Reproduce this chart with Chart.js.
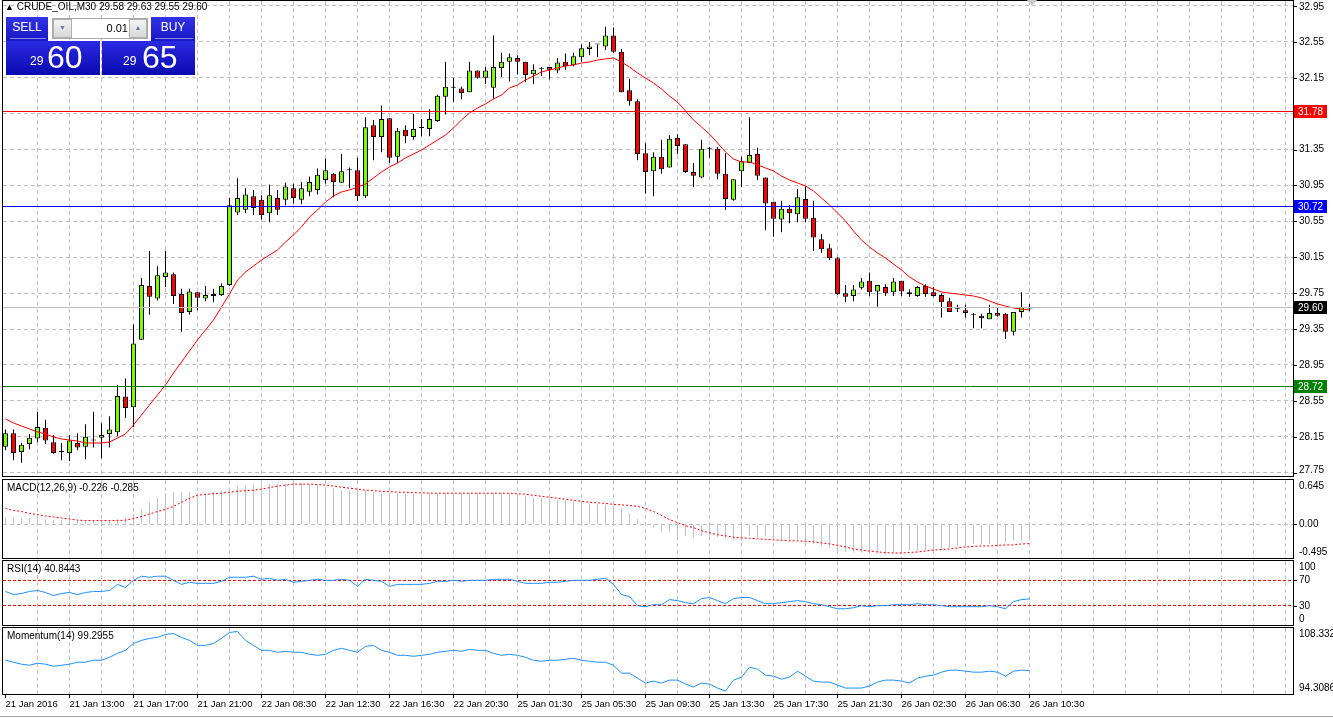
<!DOCTYPE html>
<html>
<head>
<meta charset="utf-8">
<title>CRUDE_OIL,M30</title>
<script src="https://cdn.jsdelivr.net/npm/chart.js@4.4.1/dist/chart.umd.min.js"></script>
<style>
html,body{margin:0;padding:0;background:#fff}
body{position:relative;width:1333px;height:718px;overflow:hidden;font-family:'Liberation Sans',Arial,sans-serif;color:#000}
canvas{position:absolute;left:0}
.lbl{position:absolute;left:7px;font-size:10px;line-height:12px;white-space:nowrap}
#tp div{position:absolute;box-sizing:border-box}
#tp .btn{color:#fff;font-size:12px;text-align:center;line-height:21px;background:linear-gradient(#3232e6,#1818c4)}
#tp .btn i{position:absolute;left:4px;right:2px;bottom:2px;height:1px;background:#8a8af0}
#tp .spb{background:linear-gradient(#f4f4f4,#d8d8d8);border:1px solid #b0b0b0;color:#6a7aa0;font-size:7px;line-height:16px;text-align:center}
#tp .qt{background:linear-gradient(#2a2ae2,#0a0ab0);color:#fff}
#tp .qt span{position:absolute}
#tp .s{font-size:12px;line-height:12px;top:14px}
#tp .b{font-size:32px;line-height:32px;top:0}
#shift{position:absolute;left:1027px;top:0;width:0;height:0;border-left:5px solid transparent;border-right:5px solid transparent;border-top:6px solid #c8c8c8}
#tab{position:absolute;left:0;top:716px;width:1333px;height:1px;background:#a0a0a0}
</style>
</head>
<body>
<canvas id="cMain" width="1333" height="478" style="top:0"></canvas>
<canvas id="cMacd" width="1333" height="82" style="top:478px"></canvas>
<canvas id="cRsi" width="1333" height="66" style="top:560px"></canvas>
<canvas id="cMom" width="1333" height="92" style="top:626px"></canvas>

<div class="lbl" style="left:5px;top:1px"><span style="font-size:9px;vertical-align:0">&#9650;</span>&nbsp;CRUDE_OIL,M30&nbsp;29.58&nbsp;29.63&nbsp;29.55&nbsp;29.60</div>
<div class="lbl" style="top:482px">MACD(12,26,9) -0.226 -0.285</div>
<div class="lbl" style="top:563px">RSI(14) 40.8443</div>
<div class="lbl" style="top:630px">Momentum(14) 99.2955</div>
<div id="shift"></div>
<div id="tab"></div>

<div id="tp">
  <div class="btn" style="left:6px;top:17px;width:42px;height:24px">SELL<i></i></div>
  <div style="left:52px;top:18px;width:96px;height:21px;background:#fff;border:1px solid #a8a8a8"></div>
  <div class="spb" style="left:53px;top:19px;width:19px;height:19px">&#9660;</div>
  <div style="left:73px;top:19px;width:56px;height:19px;font-size:11px;line-height:19px;text-align:right;padding-right:1px">0.01</div>
  <div class="spb" style="left:129px;top:19px;width:18px;height:19px">&#9650;</div>
  <div class="btn" style="left:151px;top:17px;width:44px;height:24px">BUY<i></i></div>
  <div class="qt" style="left:6px;top:41px;width:94px;height:34px"><span class="s" style="left:24px">29</span><span class="b" style="left:41px">60</span></div>
  <div class="qt" style="left:102px;top:41px;width:93px;height:34px"><span class="s" style="left:21px">29</span><span class="b" style="left:40px">65</span></div>
</div>

<script>
// ---- data ----
const timeLabels=['21 Jan 2016','21 Jan 13:00','21 Jan 17:00','21 Jan 21:00','22 Jan 08:30','22 Jan 12:30','22 Jan 16:30','22 Jan 20:30',
  '25 Jan 01:30','25 Jan 05:30','25 Jan 09:30','25 Jan 13:30','25 Jan 17:30','25 Jan 21:30','26 Jan 02:30','26 Jan 06:30','26 Jan 10:30'];

const open=[28.04,28.19,27.98,28.07,28.13,28.25,28.09,27.98,27.97,28.08,
  28.04,28.11,28.14,28.18,28.20,28.60,28.48,29.23,29.83,29.69,
  29.93,29.96,29.74,29.54,29.76,29.69,29.74,29.73,29.84,30.65,
  30.68,30.83,30.79,30.64,30.81,30.79,30.92,30.79,30.88,30.90,
  31.01,31.08,30.98,31.12,31.12,30.83,31.62,31.49,31.70,31.27,
  31.57,31.49,31.59,31.58,31.67,31.94,32.04,32.03,31.99,32.23,
  32.15,32.04,32.26,32.33,32.37,32.33,32.19,32.25,32.27,32.23,
  32.33,32.29,32.38,32.47,32.52,32.50,32.62,32.44,32.01,31.89,
  31.31,31.11,31.27,31.15,31.48,31.41,31.10,31.04,31.36,31.36,
  31.08,30.79,31.11,31.20,31.30,31.04,30.77,30.57,30.69,30.63,
  30.80,30.59,30.35,30.25,30.14,29.75,29.72,29.81,29.89,29.77,
  29.82,29.76,29.89,29.76,29.72,29.83,29.76,29.73,29.66,29.57,
  29.56,29.51,29.50,29.46,29.53,29.52,29.32,29.54,29.58];
const high=[28.23,28.23,28.08,28.18,28.43,28.34,28.17,28.08,28.17,28.19,
  28.29,28.43,28.30,28.38,28.73,28.80,29.40,29.92,30.22,30.05,
  30.22,29.98,29.80,29.80,29.76,29.83,29.80,29.86,30.81,31.03,
  30.92,30.90,30.84,30.96,30.90,30.98,30.97,30.99,31.05,31.14,
  31.25,31.09,31.30,31.15,31.26,31.71,31.68,31.84,31.70,31.59,
  31.62,31.75,31.69,31.80,31.96,32.33,32.15,32.05,32.33,32.23,
  32.27,32.62,32.43,32.42,32.40,32.33,32.30,32.27,32.27,32.37,
  32.42,32.43,32.52,32.55,32.52,32.72,32.71,32.47,32.14,31.91,
  31.42,31.32,31.46,31.51,31.52,31.41,31.20,31.46,31.38,31.38,
  31.31,31.02,31.27,31.71,31.37,31.04,30.77,30.78,30.73,30.91,
  30.94,30.78,30.41,30.30,30.15,29.84,29.84,29.92,29.98,29.84,
  29.85,29.92,29.89,29.79,29.83,29.85,29.82,29.75,29.70,29.62,
  29.62,29.53,29.52,29.62,29.585,29.53,29.54,29.76,29.63];
const low=[28.00,27.89,27.86,28.01,28.09,28.07,27.96,27.89,27.88,28.00,
  27.90,28.03,27.91,28.03,28.16,28.36,28.26,29.23,29.51,29.67,
  29.82,29.63,29.32,29.51,29.56,29.66,29.65,29.72,29.83,30.62,
  30.64,30.62,30.57,30.54,30.62,30.73,30.75,30.74,30.83,30.85,
  30.97,30.82,30.98,30.92,30.78,30.81,31.23,31.32,31.20,31.20,
  31.42,31.46,31.50,31.50,31.66,31.74,31.88,31.91,31.99,32.14,
  32.08,31.92,32.16,32.11,32.19,32.10,32.08,32.17,32.13,32.20,
  32.24,32.28,32.33,32.40,32.38,32.46,32.43,31.99,31.84,31.23,
  30.86,30.83,31.08,31.15,31.30,31.09,30.93,31.03,31.26,31.02,
  30.68,30.78,30.93,31.20,31.01,30.45,30.38,30.43,30.53,30.54,
  30.54,30.22,30.20,30.12,29.73,29.65,29.66,29.79,29.72,29.60,
  29.72,29.72,29.72,29.71,29.71,29.71,29.71,29.48,29.54,29.54,
  29.48,29.36,29.36,29.46,29.49,29.24,29.28,29.48,29.55];
const close=[28.19,27.97,28.06,28.14,28.26,28.11,27.97,27.98,28.11,28.03,
  28.15,28.11,28.17,28.23,28.605,28.47,29.19,29.84,29.71,29.95,
  29.98,29.72,29.53,29.77,29.70,29.73,29.72,29.83,30.73,30.81,
  30.85,30.70,30.62,30.84,30.68,30.94,30.81,30.92,30.99,31.07,
  31.12,30.99,31.11,31.12,30.83,31.60,31.49,31.69,31.26,31.56,
  31.50,31.58,31.59,31.69,31.95,32.05,32.04,31.98,32.23,32.15,
  32.23,32.27,32.33,32.38,32.33,32.18,32.24,32.25,32.24,32.32,
  32.28,32.39,32.48,32.50,32.52,32.62,32.44,31.99,31.89,31.30,
  31.10,31.27,31.13,31.47,31.39,31.10,31.06,31.36,31.36,31.08,
  30.80,31.02,31.22,31.29,31.06,30.75,30.58,30.69,30.64,30.82,
  30.58,30.37,30.24,30.14,29.74,29.71,29.79,29.88,29.76,29.84,
  29.75,29.88,29.77,29.74,29.82,29.74,29.72,29.65,29.54,29.57,
  29.53,29.51,29.47,29.53,29.50,29.32,29.54,29.60,29.60];
const ma=[28.349,28.304,28.270,28.237,28.204,28.181,28.148,28.126,28.114,28.103,
  28.081,28.081,28.081,28.092,28.137,28.181,28.282,28.393,28.505,28.616,
  28.727,28.861,28.984,29.106,29.229,29.340,29.451,29.596,29.741,29.897,
  29.986,30.053,30.120,30.176,30.231,30.320,30.399,30.488,30.599,30.677,
  30.766,30.833,30.878,30.900,30.933,30.967,31.034,31.100,31.156,31.201,
  31.257,31.301,31.346,31.401,31.457,31.513,31.591,31.680,31.758,31.814,
  31.858,31.914,31.958,32.036,32.070,32.126,32.170,32.215,32.237,32.259,
  32.282,32.293,32.315,32.326,32.348,32.360,32.371,32.326,32.270,32.204,
  32.148,32.092,32.025,31.947,31.880,31.780,31.680,31.602,31.523,31.424,
  31.323,31.245,31.212,31.212,31.179,31.145,31.112,31.056,31.011,30.978,
  30.945,30.889,30.811,30.733,30.644,30.555,30.443,30.343,30.265,30.198,
  30.142,30.075,30.009,29.931,29.875,29.830,29.797,29.763,29.752,29.741,
  29.730,29.719,29.697,29.663,29.630,29.607,29.585,29.574,29.563];
const macdMain=[0.10,0.10,0.09,0.09,0.07,0.07,0.06,0.06,0.06,0.06,
  0.06,0.06,0.06,0.06,0.07,0.09,0.15,0.22,0.32,0.39,
  0.45,0.47,0.47,0.47,0.45,0.45,0.47,0.49,0.53,0.55,
  0.57,0.58,0.58,0.59,0.59,0.59,0.60,0.60,0.58,0.57,
  0.54,0.52,0.50,0.49,0.48,0.49,0.47,0.45,0.45,0.45,
  0.44,0.44,0.45,0.45,0.44,0.45,0.45,0.46,0.45,0.45,
  0.44,0.45,0.45,0.45,0.44,0.42,0.39,0.38,0.37,0.35,
  0.35,0.33,0.32,0.30,0.29,0.29,0.27,0.23,0.16,0.07,
  0.01,-0.05,-0.11,-0.11,-0.17,-0.17,-0.20,-0.17,-0.17,-0.19,
  -0.20,-0.23,-0.20,-0.17,-0.19,-0.17,-0.23,-0.24,-0.24,-0.24,
  -0.26,-0.29,-0.32,-0.35,-0.39,-0.41,-0.42,-0.42,-0.42,-0.42,
  -0.44,-0.42,-0.42,-0.39,-0.39,-0.39,-0.38,-0.36,-0.35,-0.32,
  -0.30,-0.29,-0.30,-0.29,-0.29,-0.27,-0.24,-0.24,-0.226];
const macdSignal=[0.230,0.200,0.185,0.156,0.141,0.119,0.104,0.089,0.074,0.059,
  0.052,0.052,0.052,0.052,0.052,0.059,0.081,0.111,0.148,0.185,
  0.215,0.259,0.319,0.378,0.422,0.437,0.444,0.452,0.467,0.481,
  0.489,0.496,0.511,0.533,0.556,0.570,0.585,0.585,0.585,0.578,
  0.570,0.556,0.541,0.526,0.511,0.496,0.489,0.481,0.474,0.467,
  0.467,0.459,0.459,0.452,0.452,0.452,0.452,0.452,0.452,0.452,
  0.452,0.452,0.452,0.452,0.444,0.437,0.422,0.407,0.393,0.378,
  0.363,0.348,0.333,0.319,0.311,0.304,0.289,0.281,0.274,0.259,
  0.230,0.185,0.126,0.067,0.022,-0.022,-0.052,-0.096,-0.126,-0.156,
  -0.170,-0.193,-0.200,-0.207,-0.215,-0.222,-0.230,-0.237,-0.244,-0.244,
  -0.252,-0.259,-0.274,-0.289,-0.311,-0.333,-0.363,-0.378,-0.393,-0.407,
  -0.415,-0.422,-0.422,-0.415,-0.407,-0.393,-0.378,-0.370,-0.363,-0.348,
  -0.333,-0.326,-0.319,-0.319,-0.311,-0.304,-0.304,-0.289,-0.285];
const rsi=[52.4,47.6,49.2,52.4,54.0,50.8,46.0,49.2,50.8,47.6,
  50.8,52.4,52.4,54.0,63.5,58.7,69.8,76.2,74.6,76.2,
  76.2,69.8,63.5,66.7,65.1,65.1,65.1,68.3,74.6,74.6,
  74.6,76.2,71.4,73.0,69.8,71.4,66.7,68.3,69.8,71.4,
  69.8,69.8,71.4,69.8,60.3,71.4,69.8,68.3,60.3,63.5,
  63.5,63.5,63.5,65.1,68.3,68.3,69.8,68.3,69.8,69.8,
  69.8,71.4,71.4,71.4,68.3,65.1,65.1,65.1,66.7,66.7,
  68.3,69.8,69.8,69.8,71.4,73.0,63.5,47.6,44.4,30.2,
  28.6,31.7,31.7,39.7,38.1,34.9,33.3,41.3,42.9,38.1,
  33.3,41.3,42.9,42.9,38.1,33.3,33.3,34.9,36.5,38.1,
  36.5,33.3,31.7,28.6,25.4,25.4,27.0,30.2,28.6,30.2,
  30.2,31.7,31.7,31.7,33.3,31.7,31.7,30.2,28.6,28.6,
  28.6,28.6,28.6,30.2,28.6,25.4,36.5,39.7,40.84];
const momentum=[101.48,101.06,100.64,100.42,100.85,100.64,100.21,100.42,100.64,101.06,
  101.06,101.48,101.48,102.11,102.95,103.59,105.06,105.70,106.12,106.33,
  106.96,107.17,106.33,105.70,104.64,104.64,105.06,106.12,107.38,107.59,
  105.70,104.64,103.59,103.59,103.17,103.38,103.17,103.17,102.74,102.53,
  102.74,103.59,104.01,103.59,103.17,104.43,104.64,103.59,103.17,102.53,
  102.53,102.32,102.53,102.74,103.17,103.38,103.59,103.38,103.80,103.59,
  103.59,102.95,102.53,102.74,102.53,102.11,101.48,101.27,101.48,101.48,
  101.69,101.90,101.48,101.27,101.06,101.06,100.42,98.74,98.74,97.68,
  96.63,97.05,96.63,97.26,97.26,96.42,95.79,96.63,96.42,95.57,
  94.94,97.26,97.89,100.00,99.58,98.32,98.10,97.47,97.89,99.16,
  98.10,97.05,96.84,96.84,96.21,95.57,95.57,95.57,96.00,96.84,
  97.26,97.26,97.05,96.63,97.68,98.10,98.32,98.95,99.37,99.37,
  99.16,98.95,98.95,99.16,98.95,98.10,99.16,99.37,99.2955];

const priceTicks=['32.95','32.55','32.15','31.75','31.35','30.95','30.55','30.15','29.75','29.35','28.95','28.55','28.15','27.75'];
const macdTicks=['0.645','0.00','-0.495'];
const rsiTicks=['100','70','30','0'];
const momTicks=['108.3325','94.3086'];
const levelValues=[31.78,30.72,29.60,28.72];
const levelLine=['#ff0000','#0000ff','#c0c0c0','#008000'];
const levelBox=['#ff0000','#0000ff','#000000','#008000'];

// ---- drawing ----
const FONT="'Liberation Sans', Arial, sans-serif";
Chart.defaults.font.family=FONT;
Chart.defaults.font.size=10;
Chart.defaults.color='#000';
Chart.defaults.animation=false;

const UP='#7cfc00',DN='#ff0000',GRID='#c0c0c0',NONE='rgba(0,0,0,0)';
const X_MIN=-0.3125,X_MAX=160.9375;
const idx=close.map((_,i)=>i);
const pts=a=>a.map((v,i)=>({x:i,y:v}));

function xAxis(withLabels){
  return {type:'linear',bounds:'data',min:X_MIN,max:X_MAX,offset:false,
    afterBuildTicks:s=>{s.ticks=[];for(let v=0;v<=160;v+=4)s.ticks.push({value:v});},
    afterFit:s=>{s.height=withLabels?24:0;},
    grid:{offset:false,color:c=>c.tick&&c.tick.value>0?GRID:NONE,drawTicks:withLabels,tickLength:4,tickBorderDash:[],
      tickColor:c=>c.tick&&c.tick.value%8===0&&c.tick.value/8<timeLabels.length?'#000':NONE},
    border:{display:false,dash:[4,3]},
    ticks:{display:withLabels,autoSkip:false,maxRotation:0,minRotation:0,align:'start',padding:1,color:'#000',
      font:{size:9.5},
      callback:v=>(v%8===0&&timeLabels[v/8])?timeLabels[v/8]:''}};
}
function yAxis(min,max,ticks,gridColor,dash){
  return {type:'linear',position:'right',bounds:'data',min,max,
    afterBuildTicks:s=>{s.ticks=ticks.map(t=>({value:+t}));},
    afterFit:s=>{s.width=40;},
    grid:{color:gridColor,drawTicks:false},
    border:{display:false,dash:dash||[4,3]},
    ticks:{display:false}};
}
function framePlugin(labels,levels){
  return {id:'frame',
    afterDatasetsDraw(chart){
      const {ctx,chartArea:a,scales:{y}}=chart;
      ctx.save();ctx.lineWidth=1;
      levels.forEach((v,k)=>{
        const py=Math.round(y.getPixelForValue(v))+0.5;
        ctx.strokeStyle=levelLine[k];ctx.beginPath();ctx.moveTo(a.left,py);ctx.lineTo(a.right,py);ctx.stroke();
      });
      ctx.restore();
    },
    afterDraw(chart){
      const {ctx,chartArea:a,scales:{y}}=chart;
      ctx.save();
      ctx.strokeStyle='#000';ctx.lineWidth=1;
      ctx.strokeRect(a.left-0.5,a.top-0.5,a.right-a.left+1,a.bottom-a.top+1);
      ctx.font='10px '+FONT;ctx.textBaseline='middle';ctx.textAlign='left';
      labels.forEach(t=>{
        const py=y.getPixelForValue(+t);
        ctx.fillStyle='#000';
        if(py>a.top+2&&py<a.bottom-2)ctx.fillRect(a.right+1,Math.round(py),3,1);
        ctx.fillText(t,a.right+6,Math.min(Math.max(py,a.top+6),a.bottom-6));
      });
      levels.forEach((v,k)=>{
        const py=Math.round(y.getPixelForValue(v));
        ctx.fillStyle=levelBox[k];ctx.fillRect(a.right+1,py-6,33,13);
        ctx.fillStyle='#fff';ctx.fillText(v.toFixed(2),a.right+5,py+1);
      });
      ctx.restore();
    }};
}
function base(pad,withLabels,yScale){
  return {responsive:false,animation:false,events:[],
    layout:{padding:pad},
    plugins:{legend:{display:false},tooltip:{enabled:false}},
    scales:{x:xAxis(withLabels),y:yScale}};
}

new Chart(document.getElementById('cMain'),{
  type:'bar',
  data:{datasets:[
    {type:'line',data:pts(ma),borderColor:'#ff0000',borderWidth:1,pointRadius:0,tension:0,order:0},
    {type:'bar',data:idx.map(i=>({x:i,y:[open[i],close[i]]})),
      backgroundColor:idx.map(i=>close[i]>=open[i]?UP:DN),borderColor:'#000',borderWidth:1,borderSkipped:false,
      barThickness:5,minBarLength:1,inflateAmount:0,grouped:false,order:1},
    {type:'bar',data:idx.map(i=>({x:i,y:[low[i],high[i]]})),backgroundColor:'#000',borderWidth:0,
      barThickness:1,inflateAmount:0,grouped:false,order:2}
  ]},
  options:base({left:3,right:0,top:1,bottom:2},false,yAxis(27.7132,33.0057,priceTicks,GRID)),
  plugins:[framePlugin(priceTicks,levelValues)]
});

new Chart(document.getElementById('cMacd'),{
  type:'bar',
  data:{datasets:[
    {type:'line',data:pts(macdSignal),borderColor:'#ff0000',borderWidth:1,borderDash:[2,2],pointRadius:0,order:0},
    {type:'bar',data:pts(macdMain),backgroundColor:'#c0c0c0',borderWidth:0,barThickness:1,inflateAmount:0,grouped:false,order:1}
  ]},
  options:base({left:3,right:0,top:2,bottom:2},false,
    yAxis(-0.495,0.645,macdTicks,c=>c.tick&&c.tick.value===0?GRID:NONE)),
  plugins:[framePlugin(macdTicks,[])]
});

new Chart(document.getElementById('cRsi'),{
  type:'line',
  data:{datasets:[{data:pts(rsi),borderColor:'#1e90ff',borderWidth:1,pointRadius:0,tension:0}]},
  options:base({left:3,right:0,top:1,bottom:1},false,
    yAxis(0,100,rsiTicks,c=>c.tick&&(c.tick.value===70||c.tick.value===30)?'#ff0000':NONE,[3,2])),
  plugins:[framePlugin(rsiTicks,[])]
});

new Chart(document.getElementById('cMom'),{
  type:'line',
  data:{datasets:[{data:pts(momentum),borderColor:'#1e90ff',borderWidth:1,pointRadius:0,tension:0}]},
  options:base({left:3,right:0,top:2,bottom:0},true,yAxis(94.3086,108.3325,momTicks,NONE)),
  plugins:[framePlugin(momTicks,[])]
});
</script>
</body>
</html>
